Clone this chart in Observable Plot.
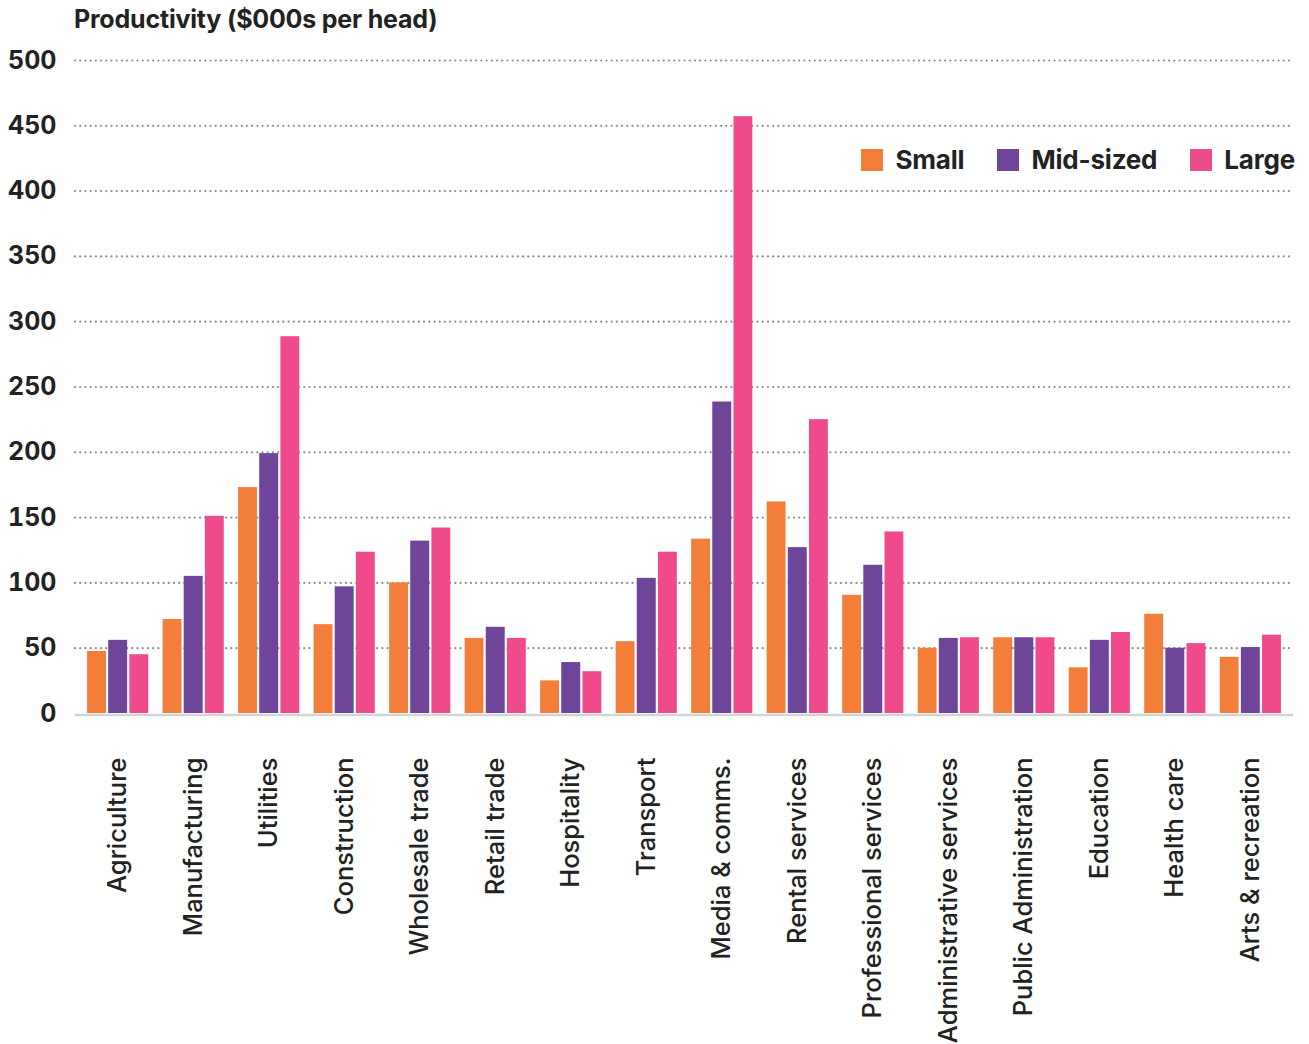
<!DOCTYPE html>
<html>
<head>
<meta charset="utf-8">
<script src="https://cdn.jsdelivr.net/npm/d3@7"></script>
<script src="https://cdn.jsdelivr.net/npm/@observablehq/plot@0.6"></script>
<style>
  html, body { margin: 0; padding: 0; background: #fff; }
  body { font-family: Inter, "Noto Sans", sans-serif; color: #222; }
  #wrap { position: relative; width: 1309px; height: 1044px; }
  #title {
    position: absolute; left: 74px; top: 4px;
    font-size: 25px; font-weight: 700; letter-spacing: -0.2px; color: #222;
  }
  #legend {
    position: absolute; right: 14px; top: 144px;
    display: flex; align-items: center; gap: 33px;
    font-size: 26px; font-weight: 700; letter-spacing: -0.2px; color: #222;
  }
  #legend .item { display: flex; align-items: center; gap: 12px; }
  #legend .sw { width: 22px; height: 22px; display: inline-block; }
  #chart { position: absolute; left: 0; top: 40px; }
  #chart svg [aria-label^="y-axis"] text { font-weight: 700; font-size: 25px; }
  #chart svg [aria-label^="x-axis"] text { font-weight: 500; font-size: 25.5px; }
</style>
</head>
<body>
<div id="wrap">
  <div id="title">Productivity ($000s per head)</div>
  <div id="chart"></div>
  <div id="legend"></div>
</div>
<script>
// Industries along the x axis
const categories = [
  "Agriculture", "Manufacturing", "Utilities", "Construction", "Wholesale trade",
  "Retail trade", "Hospitality", "Transport", "Media & comms.", "Rental services",
  "Professional services", "Administrative services", "Public Administration",
  "Education", "Health care", "Arts & recreation"
];

// Productivity by firm size ($000s per head)
const small = [47.5, 72, 173, 68, 100, 57.5, 25, 55, 133.5, 162, 90.5, 50, 58, 35, 76, 43];
const midSized = [56, 105, 199, 97, 132, 66, 39, 103.5, 238.5, 127, 113.5, 57.5, 58, 56, 50, 50.5];
const large = [45, 151, 288.5, 123.5, 142, 57.5, 32, 123.5, 457, 225, 139, 58, 58, 62, 53.5, 60];

const seriesNames = ["Small", "Mid-sized", "Large"];
const seriesColors = ["#F37E3A", "#6F4599", "#EF4A8B"];

const yTicks = [0, 50, 100, 150, 200, 250, 300, 350, 400, 450, 500];

// Long table: one row per industry and firm size
const seriesValues = [small, midSized, large];
const rows = seriesNames.flatMap((size, s) =>
  categories.map((category, i) => ({ category, size, value: seriesValues[s][i] }))
);

// Each size sits in its own third of the industry band
const insets = {
  "Small":     { insetLeft: 0,  insetRight: 42.3 },
  "Mid-sized": { insetLeft: 21.1, insetRight: 21.1 },
  "Large":     { insetLeft: 42.3, insetRight: 0 }
};

const bars = seriesNames.map(size =>
  Plot.barY(rows.filter(d => d.size === size), {
    x: "category",
    y: "value",
    fill: "size",
    ...insets[size]
  })
);

const chart = Plot.plot({
  width: 1309,
  height: 1004,
  marginTop: 20,
  marginBottom: 331,
  marginLeft: 75,
  marginRight: 16,
  style: { fontFamily: "Inter, 'Noto Sans', sans-serif", fontSize: "24px", color: "#222", background: "#fff" },
  x: {
    domain: categories,
    paddingInner: 0.19,
    paddingOuter: 0.16,
    round: false,
    tickRotate: -90,
    tickSize: 0,
    tickPadding: 44,
    label: null
  },
  y: {
    domain: [0, 500],
    ticks: yTicks,
    tickSize: 0,
    tickPadding: 19,
    label: null
  },
  color: { domain: seriesNames, range: seriesColors },
  marks: [
    // dotted gridlines behind the bars
    Plot.ruleY(yTicks.filter(t => t > 0), {
      stroke: "#8c8c8c",
      strokeWidth: 2.2,
      strokeDasharray: "0.01,5.2",
      strokeLinecap: "round"
    }),
    ...bars,
    // light baseline under the bars
    Plot.ruleY([0], { stroke: "#d2d5d5", strokeWidth: 2.5, dy: 1.5 })
  ]
});

document.getElementById("chart").appendChild(chart);

// Legend swatches
const legend = document.getElementById("legend");
seriesNames.forEach((name, i) => {
  const item = document.createElement("div");
  item.className = "item";
  const sw = document.createElement("span");
  sw.className = "sw";
  sw.style.background = seriesColors[i];
  const label = document.createElement("span");
  label.textContent = name;
  item.appendChild(sw);
  item.appendChild(label);
  legend.appendChild(item);
});
</script>
</body>
</html>
